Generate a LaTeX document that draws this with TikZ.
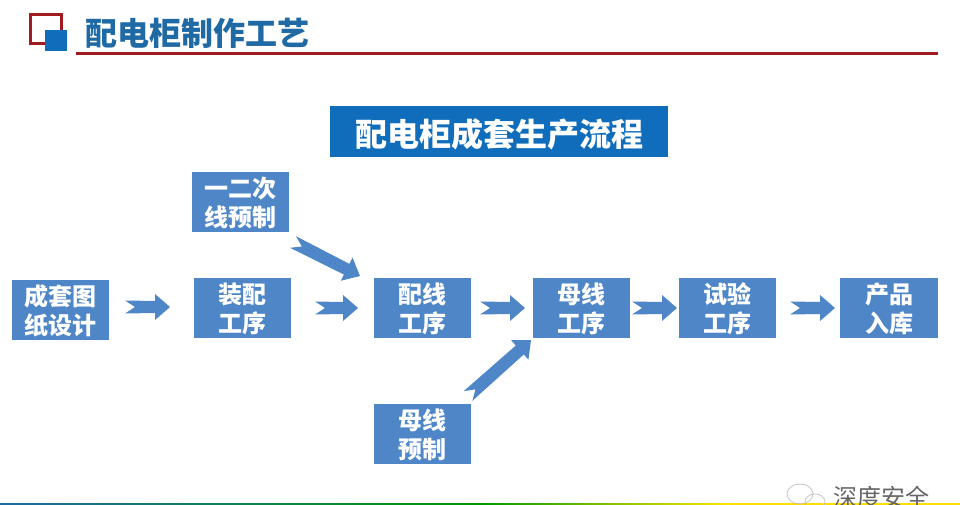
\documentclass[tikz,border=0pt]{standalone}
\usepackage{fontspec}
\setmainfont{Noto Sans CJK SC}
\usepackage{tikz}
\usetikzlibrary{arrows.meta,positioning,calc}
\definecolor{boxblue}{HTML}{4F86C8}
\definecolor{titleblue}{HTML}{0F6DBB}
\definecolor{headblue}{HTML}{1F6AA5}
\definecolor{darkred}{HTML}{A01A1E}
\tikzset{
    stepbox/.style={fill=boxblue, text=white, inner sep=0pt, outer sep=0pt, minimum width=97pt, minimum height=60pt, align=center, font=\fontsize{24}{29}\selectfont\bfseries},
    flow/.style={draw=none, fill=boxblue, to path={
        ($(\tikztostart)!10pt!(\tikztotarget)$)
        -- ($(\tikztostart)!6.5pt!90:(\tikztotarget)$)
        -- ($(\tikztotarget)!15pt!(\tikztostart)!6pt!90:(\tikztotarget)$)
        -- ($(\tikztotarget)!15pt!(\tikztostart)!13pt!90:(\tikztotarget)$)
        -- (\tikztotarget)
        -- ($(\tikztotarget)!15pt!(\tikztostart)!13pt!-90:(\tikztotarget)$)
        -- ($(\tikztotarget)!15pt!(\tikztostart)!6pt!-90:(\tikztotarget)$)
        -- ($(\tikztostart)!6.5pt!-90:(\tikztotarget)$)
        -- cycle}}
}

\begin{document}
\begin{tikzpicture}[x=1pt, y=1pt, node distance=85pt]
                \useasboundingbox (0,0) rectangle (960,-505);
                \fill[white] (0,0) rectangle (960,-505);

                \draw[darkred, line width=3pt] (30,-15) rectangle (61,-44);
                \fill[titleblue] (45,-30) rectangle (67,-51);
                \node[inner sep=0pt, text=headblue, font=\fontsize{32}{36}\selectfont\bfseries, anchor=west] (heading) at (85,-33) {配电柜制作工艺};
                \draw[darkred, line width=3pt] (76,-54) -- (938,-54);

                \node[fill=titleblue, text=white, inner sep=0pt, outer sep=0pt, minimum width=338pt, minimum height=51pt, font=\fontsize{32}{36}\selectfont\bfseries] (title) at (499,-131.5) {\rule{0pt}{33pt}配电柜成套生产流程};

                \node[stepbox] (zhuangpei) at (242.5,-308) {装配\\\smash{工序}};
                \node[stepbox, left=85pt of zhuangpei, yshift=-2pt] (tuzhi) {成套图\\\smash{纸设计}};
                \node[stepbox, right=83pt of zhuangpei] (peixian) {配线\\\smash{工序}};
                \node[stepbox, right=62pt of peixian] (muxian) {母线\\\smash{工序}};
                \node[stepbox, right=49pt of muxian] (shiyan) {试验\\\smash{工序}};
                \node[stepbox, right=64pt of shiyan, minimum width=98pt] (ruku) {产品\\\smash{入库}};
                \node[stepbox, above=46pt of zhuangpei, xshift=-2pt] (ercixian) {一二次\\\smash{线预制}};
                \node[stepbox, below=66pt of peixian] (yuzhi) {母线\\\smash{预制}};

                \draw[flow] ([shift={(16,3)}]tuzhi.east) to ([shift={(-24,1)}]zhuangpei.west);
                \draw[flow] ([xshift=24pt]zhuangpei.east) to ([xshift=-16pt]peixian.west);
                \draw[flow] ([xshift=9pt]peixian.east) to ([xshift=-8pt]muxian.west);
                \draw[flow] ([xshift=2pt]muxian.east) to ([xshift=-2pt]shiyan.west);
                \draw[flow] ([xshift=14pt]shiyan.east) to ([xshift=-5pt]ruku.west);
                \draw[flow] ([shift={(4,-10)}]ercixian.south east) to ([shift={(-14,2)}]peixian.north west);
                \draw[flow] ([shift={(-3,8)}]yuzhi.north east) to ([shift={(-2,-2)}]muxian.south west);

                \shade[left color=headblue, right color=green!60!black] (0,-503) rectangle (480,-505);
                \shade[left color=green!60!black, right color=yellow!80!orange] (480,-503) rectangle (730,-505);
                \fill[yellow!80!orange] (730,-503) rectangle (960,-505);

                \draw[gray!50, line width=0.7pt] (800,-494) ellipse (13 and 10);
                \draw[gray!50, line width=0.7pt] (815,-502) ellipse (10 and 8);
                \node[inner sep=0pt, text=gray!80!black, font=\fontsize{24}{28}\selectfont, anchor=west] (mark) at (833,-497) {深度安全};
            \end{tikzpicture}
\end{document}
